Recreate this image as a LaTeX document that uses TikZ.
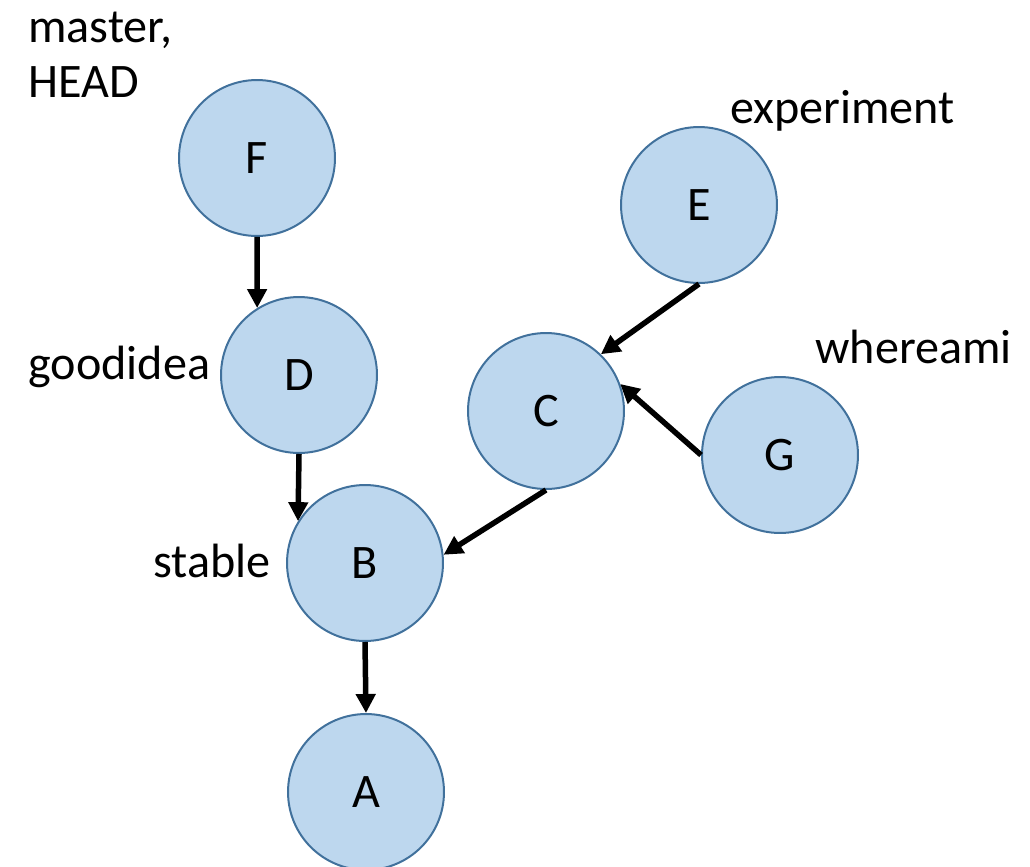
\documentclass[tikz,border=0pt]{standalone}
\usepackage{fontspec}
\setmainfont{Carlito}
\usetikzlibrary{arrows.meta}
\definecolor{commitfill}{HTML}{BDD7EE}
\definecolor{commitline}{HTML}{41719C}

\begin{document}
\begin{tikzpicture}[x=0.02cm,y=-0.02cm,
    every node/.style={font=\fontsize{27.4}{31.3}\selectfont},
    commit/.style={circle,draw=commitline,fill=commitfill,line width=0.04cm,
        minimum size=3.12cm,inner sep=0pt},
    ref/.style={anchor=base west,inner sep=0pt,align=left},
    parent/.style={-{Triangle[length=0.38cm,width=0.38cm]},line width=0.11cm}]
    \useasboundingbox (0,0) rectangle (1030,866);
    % commits
    \node[commit] (F) at (257,158) {F};
    \node[commit] (D) at (299,375) {D};
    \node[commit] (E) at (699,205) {E};
    \node[commit] (C) at (546,411) {C};
    \node[commit] (G) at (780,455) {G};
    \node[commit] (B) at (365,563) {B};
    \node[commit] (A) at (366,792) {A};
    % branch names (base = last line)
    \node[ref] (master) at (28,97) {master,\\HEAD};
    \node[ref] (goodidea) at (28,379) {goodidea};
    \node[ref] (stable) at (153,577) {stable};
    \node[ref] (experiment) at (730,123) {experiment};
    \node[ref] (whereami) at (815,363) {whereami};
    % parent links
    \draw[parent] (F.south) -- (D.122);
    \draw[parent] (D.south) -- (B.148);
    \draw[parent] (E.south) -- (C.46);
    \draw[parent] (G.west) -- (C.20);
    \draw[parent] (C.south) -- (B.6);
    \draw[parent] (B.south) -- (A.north);
\end{tikzpicture}
\end{document}
